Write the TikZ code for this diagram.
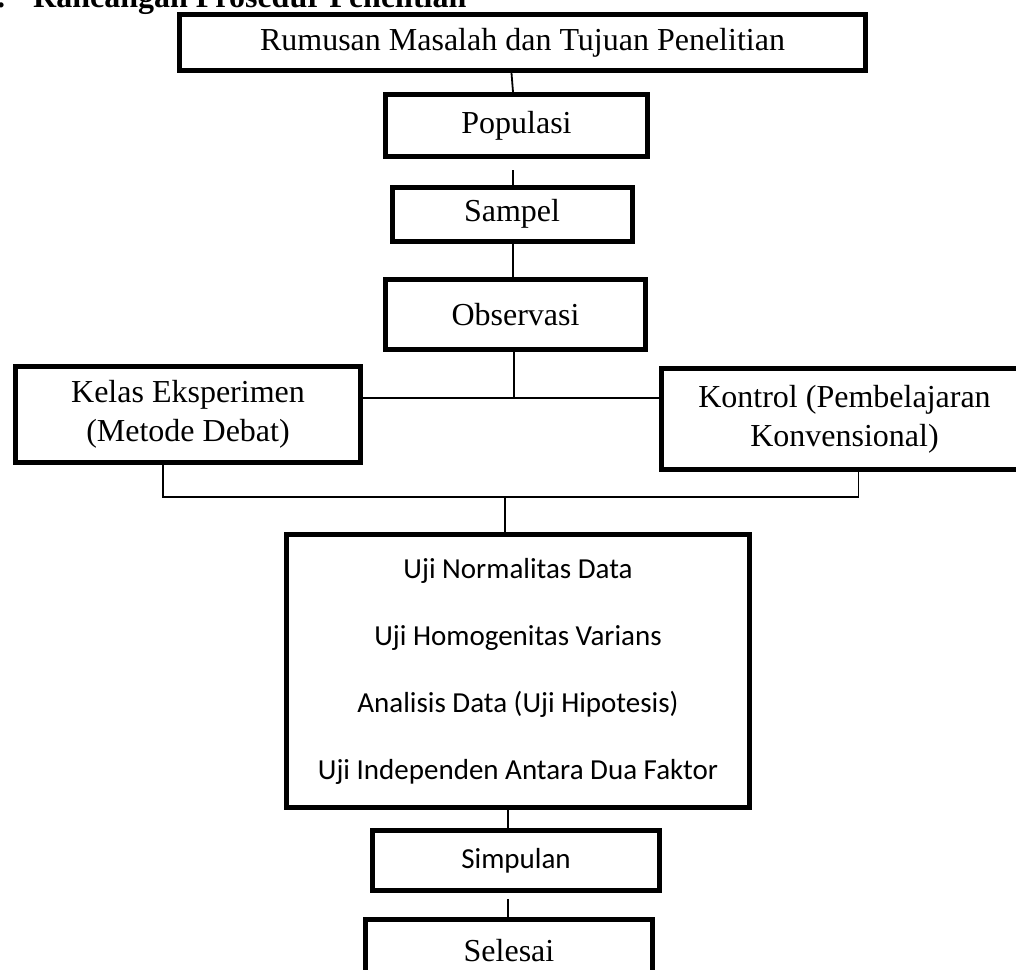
\documentclass[tikz,border=0pt]{standalone}
\usepackage{fontspec}
\setmainfont{Liberation Serif}
\newfontfamily\calfont{Carlito}
\begin{document}
\begin{tikzpicture}[x=1pt,y=-1pt,
  box/.style={draw, line width=5pt, inner sep=0pt, align=center},
  serif/.style={font=\fontsize{32}{39}\selectfont},
  sans/.style={font=\calfont\fontsize{29}{67}\selectfont},
  conn/.style={line width=1.8pt}]
\useasboundingbox (0,0) rectangle (1016,969);
% heading (mostly cut off at the top)
\node[anchor=base west, inner sep=0pt, font=\bfseries\fontsize{32}{39}\selectfont] (dot) at (-3,7.5) {.};
\node[anchor=base west, inner sep=0pt, font=\bfseries\fontsize{32}{39}\selectfont] (head) at (33,7.5) {Rancangan Prosedur Penelitian};
% boxes
\node[box, serif, minimum width=686, minimum height=56] (top) at (522.5,42.5) {Rumusan Masalah dan Tujuan Penelitian};
\node[box, serif, minimum width=262, minimum height=62] (pop) at (516.5,125.5) {Populasi};
\node[box, serif, minimum width=240, minimum height=54] (sam) at (512,214) {Sampel};
\node[box, serif, minimum width=260, minimum height=70] (obs) at (515.5,314.5) {Observasi};
\node[box, serif, minimum width=345, minimum height=96] (kelas) at (188,414.5) {Kelas Eksperimen\\(Metode Debat)};
\node[box, serif, minimum width=366, minimum height=101] (kontrol) at (844.5,419) {Kontrol (Pembelajaran\\Konvensional)};
\node[box, sans, minimum width=463, minimum height=273] (big) at (518,671) {Uji Normalitas Data\\Uji Homogenitas Varians\\Analisis Data (Uji Hipotesis)\\Uji Independen Antara Dua Faktor};
\node[box, font=\calfont\fontsize{29}{35}\selectfont, minimum width=287, minimum height=60] (simp) at (516,860.5) {Simpulan};
\node[box, serif, minimum width=287, minimum height=63] (sel) at (509,951) {Selesai};
% connectors
\coordinate (j1) at (514,398);
\coordinate (j2) at (505,497);
\draw[conn] ([xshift=-11pt]top.south) -- ([xshift=-3.5pt]pop.north);
\draw[conn] ([xshift=-3.5pt,yshift=-11pt]pop.south) -- ([xshift=1pt]sam.north);
\draw[conn] ([xshift=1pt]sam.south) -- ([xshift=-2.5pt]obs.north);
\draw[conn] ([xshift=-1.5pt]obs.south) -- (j1);
\draw[conn] (kelas.east |- j1) -- (kontrol.west |- j1);
\draw[conn] ([xshift=-25pt]kelas.south) |- (j2) -| ([xshift=14pt]kontrol.south);
\draw[conn] (j2) -- (j2 |- big.north);
\draw[conn] ([xshift=-10pt]big.south) -- ([xshift=-8pt]simp.north);
\draw[conn] ([xshift=-8pt,yshift=-6pt]simp.south) -- ([xshift=-1pt]sel.north);
\end{tikzpicture}
\end{document}
